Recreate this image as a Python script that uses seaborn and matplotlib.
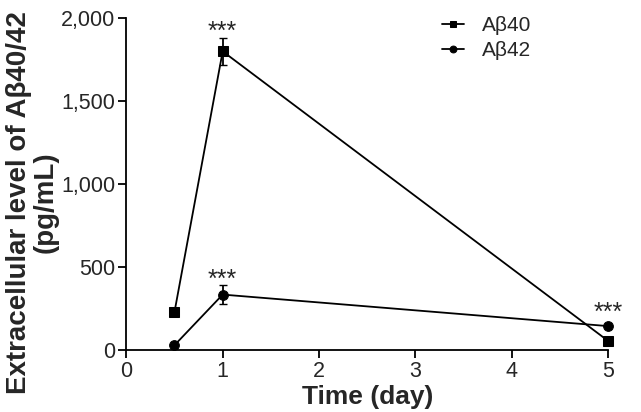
import seaborn as sns
from matplotlib import pyplot as plt
from matplotlib.ticker import FuncFormatter
import pandas as pd

# values
days = [0.5, 1, 5]
ab40 = [230, 1800, 55]
ab40_err = [0, 80, 0]
ab42 = [30, 335, 145]
ab42_err = [0, 55, 0]
series = ['A\u03b240', 'A\u03b242']
stars = ['***', '***', '***']

df = pd.DataFrame({
    'day': days * 2,
    'level': ab40 + ab42,
    'peptide': [series[0]] * 3 + [series[1]] * 3,
})

sns.set_style('ticks')
plt.rcParams['font.family'] = ['Liberation Sans', 'DejaVu Sans']

fig = plt.figure(figsize=(6.41, 4.12), dpi=100)
ax = fig.add_axes([0.197, 0.150, 0.752, 0.806])

ax = sns.lineplot(data=df, x='day', y='level', hue='peptide', style='peptide',
                  markers={series[0]: 's', series[1]: 'o'}, dashes=False,
                  palette=['black', 'black'], markersize=7, linewidth=1.3,
                  markeredgecolor='black', ax=ax)
ax.errorbar(days, ab40, yerr=ab40_err, fmt='none', ecolor='black', elinewidth=1.3, capsize=3)
ax.errorbar(days, ab42, yerr=ab42_err, fmt='none', ecolor='black', elinewidth=1.3, capsize=3)

# significance marks
ax.text(days[1], ab40[1] + ab40_err[1] - 5, stars[0], ha='center', va='baseline', fontsize=18)
ax.text(days[1], ab42[1] + ab42_err[1] - 10, stars[1], ha='center', va='baseline', fontsize=18)
ax.text(days[2], ab42[2] + 35, stars[2], ha='center', va='baseline', fontsize=18)

ax.set_xlim(0, 5)
ax.set_ylim(0, 2000)
ax.set_xticks(range(6))
ax.set_yticks([0, 500, 1000, 1500, 2000])
ax.yaxis.set_major_formatter(FuncFormatter(lambda v, p: f'{int(v):,}'))
ax.tick_params(labelsize=15.5, length=6, width=1.3, direction='out', color='black', pad=2)
for s in ['left', 'bottom']:
    ax.spines[s].set_linewidth(1.3)
    ax.spines[s].set_color('black')
sns.despine(ax=ax)
for line in ax.lines:
    line.set_clip_on(False)

ax.set_xlabel('Time (day)', fontsize=19, fontweight='bold', labelpad=2)
ax.set_ylabel('Extracellular level of A\u03b240/42\n(pg/mL)', fontsize=20,
              fontweight='bold', linespacing=1.05)
ax.yaxis.set_label_coords(-0.14, 0.445)

leg = ax.legend(loc='upper right', bbox_to_anchor=(0.88, 1.063), frameon=False,
                fontsize=15, handlelength=1.05, handletextpad=0.9, labelspacing=0.3,
                markerscale=0.7, title=None)

plt.savefig('out.png', dpi=100)
